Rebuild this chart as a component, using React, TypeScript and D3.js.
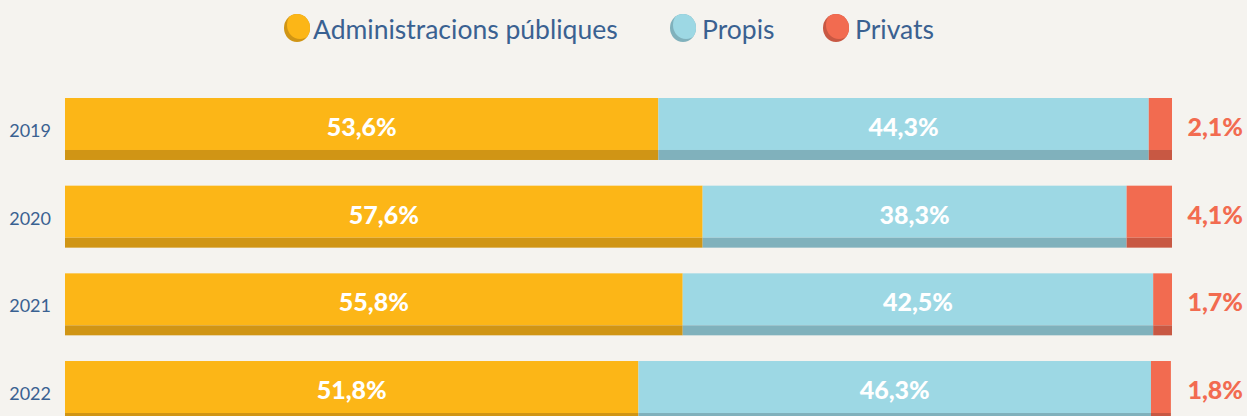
import React from "react";
import * as d3 from "d3";

const years = ["2019", "2020", "2021", "2022"];
const administracions = [53.6, 57.6, 55.8, 51.8];
const propis = [44.3, 38.3, 42.5, 46.3];
const privats = [2.1, 4.1, 1.7, 1.8];
const seriesNames = ["Administracions públiques", "Propis", "Privats"];

const W = 1247;
const H = 416;
const BG = "#f5f3ef";
const colors = ["#fcb617", "#9dd8e4", "#f26b50"];
const darkColors = ["#d09515", "#80b1bc", "#c85843"];
const textBlue = "#3a6191";
const FONT = "Lato, 'Open Sans', sans-serif";

const fmt = (v: number) => v.toFixed(1).replace(".", ",") + "%";

export default function App() {
  const x = d3.scaleLinear().domain([0, 100]).range([65, 1172]);
  const y = d3
    .scaleBand<string>()
    .domain(years)
    .range([98, 423])
    .paddingInner(0.293)
    .paddingOuter(0);
  const bh = y.bandwidth();
  const darkH = 10;

  const rows = years.map((yr, i) => ({
    year: yr,
    values: [administracions[i], propis[i], privats[i]],
  }));

  const legendX = [297, 683, 836];
  const legendTextX = [313, 702, 855];

  return (
    <svg
      width={W}
      height={H}
      style={{ position: "absolute", left: 0, top: 0, background: BG }}
    >
      <rect x={0} y={0} width={W} height={H} fill={BG} />
      <defs>
        {seriesNames.map((_, i) => (
          <clipPath id={`lg${i}`} key={i}>
            <ellipse cx={legendX[i]} cy={28} rx={13} ry={14} />
          </clipPath>
        ))}
      </defs>
      {/* legend */}
      {seriesNames.map((name, i) => (
        <g key={name}>
          <ellipse cx={legendX[i]} cy={28} rx={13} ry={14} fill={darkColors[i]} />
          <ellipse
            cx={legendX[i] + 3}
            cy={25}
            rx={13}
            ry={14}
            fill={colors[i]}
            clipPath={`url(#lg${i})`}
          />
          <text
            x={legendTextX[i]}
            y={39}
            fontFamily={FONT}
            fontSize={26.5}
            fill={textBlue}
          >
            {name}
          </text>
        </g>
      ))}
      {/* bars */}
      {rows.map((row) => {
        const y0 = y(row.year)!;
        let acc = 0;
        const segs = row.values.map((v, i) => {
          const s = { x0: x(acc), x1: x(acc + v), v, i };
          acc += v;
          return s;
        });
        return (
          <g key={row.year}>
            <text
              x={51}
              y={y0 + 39}
              textAnchor="end"
              fontFamily={FONT}
              fontSize={18}
              fill={textBlue}
            >
              {row.year}
            </text>
            {segs.map((s) => (
              <g key={s.i}>
                <rect
                  x={s.x0}
                  y={y0}
                  width={s.x1 - s.x0}
                  height={bh - darkH}
                  fill={colors[s.i]}
                />
                <rect
                  x={s.x0}
                  y={y0 + bh - darkH}
                  width={s.x1 - s.x0}
                  height={darkH}
                  fill={darkColors[s.i]}
                />
              </g>
            ))}
            {segs.slice(0, 2).map((s) => (
              <text
                key={"t" + s.i}
                x={(s.x0 + s.x1) / 2}
                y={y0 + 38}
                textAnchor="middle"
                fontFamily={FONT}
                fontWeight={900}
                fontSize={25}
                fill="#ffffff"
              >
                {fmt(s.v)}
              </text>
            ))}
            <text
              x={1243}
              y={y0 + 38}
              textAnchor="end"
              fontFamily={FONT}
              fontWeight={900}
              fontSize={25}
              fill={colors[2]}
            >
              {fmt(row.values[2])}
            </text>
          </g>
        );
      })}
    </svg>
  );
}
